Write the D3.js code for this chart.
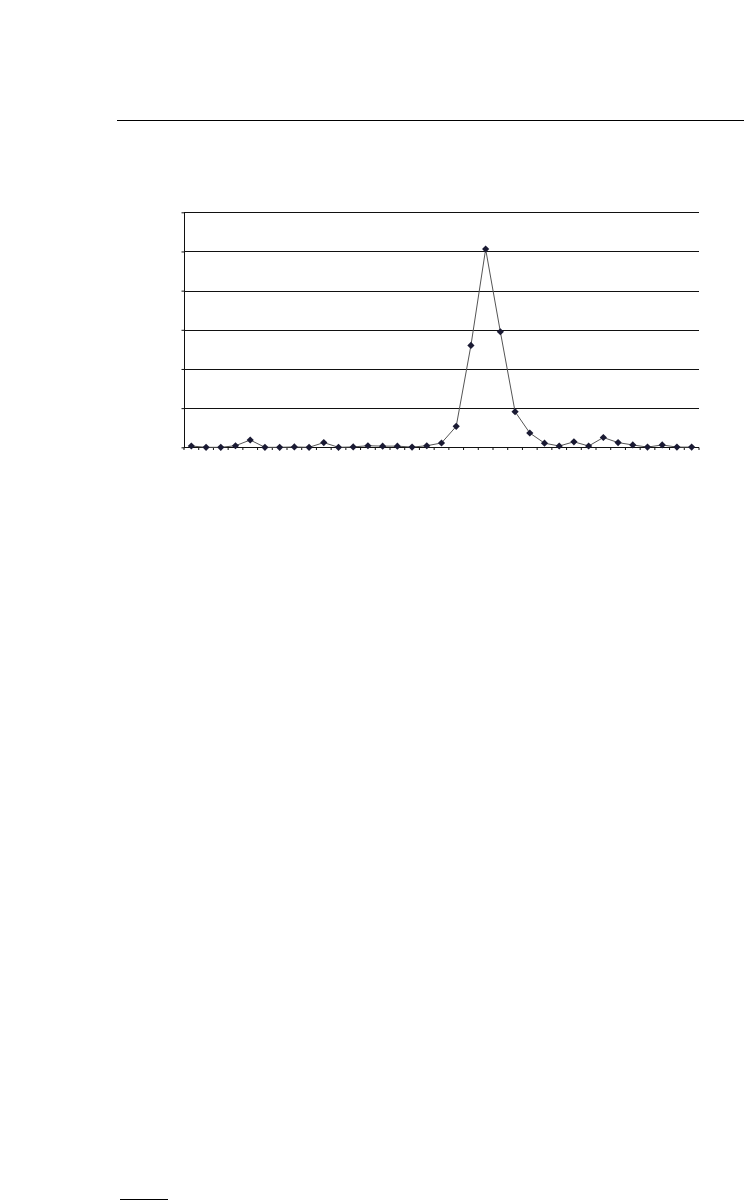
<!DOCTYPE html>
<html><head><meta charset="utf-8">
<script src="https://cdn.jsdelivr.net/npm/d3@7"></script>
<style>html,body{margin:0;padding:0;background:#fff;}svg{display:block;}</style>
</head><body>
<script>
const categories = d3.range(1, 36).map(String);
const values = [0.33,0,0,0.4,1.86,0,0,0.1,0,1.2,0,0.1,0.4,0.3,0.3,0.05,0.4,1.1,5.35,26.0,50.6,29.5,9.1,3.65,1.05,0.33,1.4,0.33,2.5,1.2,0.6,0.05,0.6,0.05,0.05];
const yTicks = [0,10,20,30,40,50,60];

(function(){
const W = 744, H = 1201;
const svg = d3.select("body").append("svg").attr("width", W).attr("height", H);

// page rules
svg.append("line").attr("x1",117).attr("x2",744).attr("y1",120.5).attr("y2",120.5).attr("stroke","#000").attr("stroke-width",1.2);
svg.append("line").attr("x1",120).attr("x2",168).attr("y1",1199.5).attr("y2",1199.5).attr("stroke","#000").attr("stroke-width",1.2);

const pL = 184, pR = 699, pT = 212.3, pB = 447.3;
const x = d3.scaleBand().domain(categories).range([pL, pR]).padding(0);
const y = d3.scaleLinear().domain([0, 60]).range([pB, pT]);

// gridlines
svg.append("g").selectAll("line").data(yTicks.filter(d=>d>0)).join("line")
  .attr("x1", pL).attr("x2", pR)
  .attr("y1", d=>Math.round(y(d))+0.5).attr("y2", d=>Math.round(y(d))+0.5)
  .attr("stroke","#111").attr("stroke-width",1);

// y axis
const yAxis = svg.append("g").attr("transform",`translate(${pL+0.5},0)`)
  .call(d3.axisLeft(y).tickValues(yTicks).tickSize(3).tickFormat(""));
yAxis.selectAll("path,line").attr("stroke","#111");
yAxis.select(".domain").attr("d", `M0,${pT}V${pB}`);

// x axis with ticks at category boundaries
const xg = svg.append("g").attr("transform",`translate(0,${Math.round(pB)+0.5})`);
xg.append("line").attr("x1",pL).attr("x2",pR).attr("stroke","#111");
xg.selectAll("line.t").data(categories.concat(["end"])).join("line").attr("class","t")
  .attr("x1",(d,i)=> i<categories.length ? x(d) : pR)
  .attr("x2",(d,i)=> i<categories.length ? x(d) : pR)
  .attr("y1",0).attr("y2",2.5).attr("stroke","#111");

// line
const line = d3.line().x((d,i)=>x(categories[i])+x.bandwidth()/2).y(d=>y(d));
svg.append("path").datum(values).attr("d", line).attr("fill","none").attr("stroke","#555").attr("stroke-width",1);

// markers
svg.append("g").selectAll("path").data(values).join("path")
  .attr("transform",(d,i)=>`translate(${x(categories[i])+x.bandwidth()/2},${y(d)})`)
  .attr("d","M0,-3.6L3.6,0L0,3.6L-3.6,0Z")
  .attr("fill","#1a1a33");
})();
</script>
</body></html>
